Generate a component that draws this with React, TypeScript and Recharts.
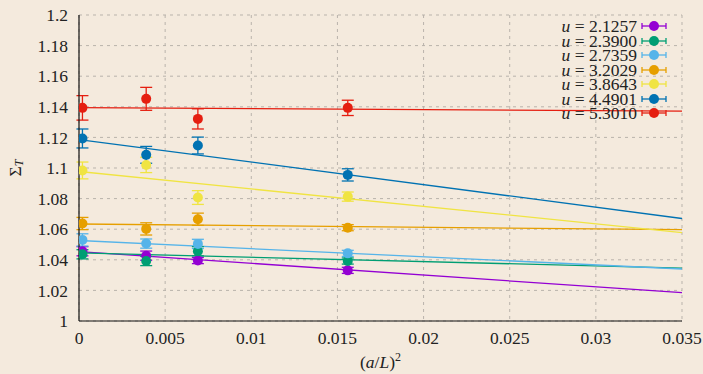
import React from 'react';
import {
  ComposedChart,
  Scatter,
  Line,
  XAxis,
  YAxis,
  CartesianGrid,
  ErrorBar,
  Legend,
} from 'recharts';

// lattice spacing (a/L)^2
const spacings = [0.0002, 0.0039, 0.0069, 0.0156];
const couplings = ['2.1257', '2.3900', '2.7359', '3.2029', '3.8643', '4.4901', '5.3010'];
const colors = ['#9400d3', '#009e73', '#56b4e9', '#e69f00', '#f0e442', '#0072b2', '#e51e10'];

// Sigma_T per coupling
const sigma21257 = [1.0456, 1.0427, 1.0395, 1.0331];
const sigma23900 = [1.0436, 1.0392, 1.0456, 1.0392];
const sigma27359 = [1.053, 1.0506, 1.0504, 1.0442];
const sigma32029 = [1.0637, 1.0602, 1.0665, 1.061];
const sigma38643 = [1.0984, 1.102, 1.0807, 1.0813];
const sigma44901 = [1.1193, 1.1086, 1.1147, 1.0955];
const sigma53010 = [1.1393, 1.1452, 1.1321, 1.1393];

const err21257 = [0.003, 0.003, 0.002, 0.002];
const err23900 = [0.003, 0.003, 0.003, 0.002];
const err27359 = [0.004, 0.003, 0.003, 0.002];
const err32029 = [0.004, 0.004, 0.004, 0.002];
const err38643 = [0.0055, 0.005, 0.0045, 0.003];
const err44901 = [0.0062, 0.0055, 0.0055, 0.004];
const err53010 = [0.008, 0.0075, 0.0066, 0.005];

// linear fits, value at x = 0 and at x = 0.035
const fitRange = [0, 0.035];
const fitAtZero = [1.0454, 1.0445, 1.0526, 1.0634, 1.0977, 1.1186, 1.1395];
const fitAtEnd = [1.0185, 1.0346, 1.034, 1.0597, 1.0578, 1.067, 1.1372];

const xTicks = [0, 0.005, 0.01, 0.015, 0.02, 0.025, 0.03, 0.035];
const yTicks = [1, 1.02, 1.04, 1.06, 1.08, 1.1, 1.12, 1.14, 1.16, 1.18, 1.2];

const values = [sigma21257, sigma23900, sigma27359, sigma32029, sigma38643, sigma44901, sigma53010];
const errors = [err21257, err23900, err27359, err32029, err38643, err44901, err53010];

const series = couplings.map((u, i) => ({
  u,
  color: colors[i],
  points: spacings.map((x, j) => ({ x, y: values[i][j], err: errors[i][j] })),
  fit: fitRange.map((x, k) => ({ x, y: k === 0 ? fitAtZero[i] : fitAtEnd[i] })),
}));

const FONT = '"Liberation Serif", serif';
const BG = '#f4eadd';

function LegendBox() {
  return (
    <div style={{ fontFamily: FONT, fontSize: 17.5, color: '#222' }}>
      {series.map((s) => (
        <div
          key={s.u}
          style={{ display: 'flex', justifyContent: 'flex-end', alignItems: 'center', height: 14.5 }}
        >
          <span style={{ lineHeight: '14.5px', whiteSpace: 'pre' }}>
            <i>u</i> = {s.u}
          </span>
          <svg width={31} height={14}>
            <line x1={5} x2={29} y1={7} y2={7} stroke={s.color} strokeWidth={1.3} />
            <line x1={5} x2={5} y1={4} y2={10} stroke={s.color} strokeWidth={1.3} />
            <line x1={29} x2={29} y1={4} y2={10} stroke={s.color} strokeWidth={1.3} />
            <circle cx={17} cy={7} r={5} fill={s.color} />
          </svg>
        </div>
      ))}
    </div>
  );
}

export default function App() {
  return (
    <div style={{ position: 'absolute', left: 0, top: 0, width: 703, height: 374, background: BG }}>
      <ComposedChart width={703} height={374} margin={{ top: 15, right: 21, bottom: 0, left: 0 }}>
        <CartesianGrid stroke="#b9b3ab" strokeDasharray="3 4" />
        <XAxis
          dataKey="x"
          type="number"
          domain={[0, 0.035]}
          ticks={xTicks}
          allowDataOverflow
          height={53}
          tickSize={0}
          tickMargin={11}
          axisLine={{ stroke: '#111', strokeWidth: 1.2 }}
          tick={{ fill: '#222', fontFamily: FONT, fontSize: 17.5 }}
          label={({ viewBox }: any) => (
            <text
              x={viewBox.x + viewBox.width / 2}
              y={viewBox.y + 47}
              textAnchor="middle"
              fontFamily={FONT}
              fontSize={17.5}
              fill="#222"
            >
              (<tspan fontStyle="italic">a</tspan>/<tspan fontStyle="italic">L</tspan>)
              <tspan dy={-7} fontSize={12}>2</tspan>
            </text>
          )}
        />
        <XAxis
          xAxisId="top"
          orientation="top"
          mirror
          height={0}
          type="number"
          domain={[0, 0.035]}
          ticks={xTicks}
          tick={false}
          tickSize={5}
          axisLine={{ stroke: '#444', strokeWidth: 1.5 }}
          tickLine={{ stroke: '#444' }}
        />
        <YAxis
          type="number"
          domain={[1, 1.2]}
          ticks={yTicks}
          allowDataOverflow
          width={79}
          tickSize={0}
          tickMargin={11}
          axisLine={{ stroke: '#111', strokeWidth: 1.2 }}
          tick={{ fill: '#222', fontFamily: FONT, fontSize: 17.5 }}
          label={({ viewBox }: any) => {
            const cx = viewBox.x + 15;
            const cy = viewBox.y + viewBox.height / 2;
            return (
              <text
                x={cx}
                y={cy}
                transform={`rotate(-90 ${cx} ${cy})`}
                textAnchor="middle"
                dominantBaseline="central"
                fontFamily={FONT}
                fontSize={17.5}
                fill="#222"
              >
                Σ<tspan dy={4} fontSize={12} fontStyle="italic">T</tspan>
              </text>
            );
          }}
        />
        <YAxis
          yAxisId="right"
          orientation="right"
          mirror
          width={0}
          type="number"
          domain={[1, 1.2]}
          ticks={yTicks}
          tick={false}
          tickSize={5}
          axisLine={{ stroke: '#444', strokeWidth: 1.5 }}
          tickLine={{ stroke: '#444' }}
        />
        {series.map((s) => (
          <Line
            key={`fit-${s.u}`}
            data={s.fit}
            dataKey="y"
            type="linear"
            stroke={s.color}
            strokeWidth={1.3}
            dot={false}
            activeDot={false}
            isAnimationActive={false}
          />
        ))}
        {series.map((s) => (
          <Scatter
            key={`pts-${s.u}`}
            data={s.points}
            dataKey="y"
            fill={s.color}
            isAnimationActive={false}
            shape={(p: any) => <circle cx={p.cx} cy={p.cy} r={5} fill={s.color} />}
          >
            <ErrorBar dataKey="err" direction="y" width={6} stroke={s.color} strokeWidth={1.3} />
          </Scatter>
        ))}
        <Legend
          layout="vertical"
          align="center"
          verticalAlign="middle"
          wrapperStyle={{ position: 'absolute', top: 19, left: 480, width: 188, height: 102 }}
          content={() => <LegendBox />}
        />
      </ComposedChart>
    </div>
  );
}
